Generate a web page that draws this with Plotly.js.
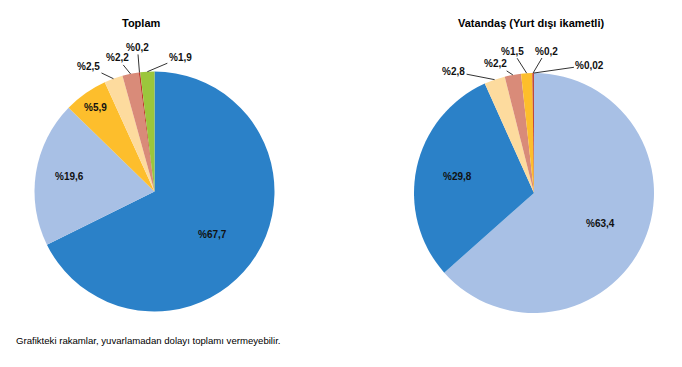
<!DOCTYPE html>
<html>
<head>
<meta charset="utf-8">
<script src="https://cdn.plot.ly/plotly-3.0.1.min.js"></script>
<style>html,body{margin:0;padding:0;background:#fff;}#chart{width:682px;height:367px;}</style>
</head>
<body>
<div id="chart"></div>
<script>
// ---- data ----
var leftTitle = "Toplam";
var rightTitle = "Vatandaş (Yurt dışı ikametli)";
var leftLabels = ["A1", "A2", "A3", "A4", "A5", "A6", "A7"];
var leftValues = [67.7, 19.6, 5.9, 2.5, 2.2, 0.2, 1.9];
var leftText = ["%67,7", "%19,6", "%5,9", "%2,5", "%2,2", "%0,2", "%1,9"];
var rightLabels = ["B1", "B2", "B3", "B4", "B5", "B6", "B7"];
var rightValues = [63.4, 29.8, 2.8, 2.2, 1.5, 0.2, 0.02];
var rightText = ["%63,4", "%29,8", "%2,8", "%2,2", "%1,5", "%0,2", "%0,02"];
var footnote = "Grafikteki rakamlar, yuvarlamadan dolayı toplamı vermeyebilir.";

// ---- styles / layout config ----
var W = 682, H = 367;
var leftColors = ["#2B81C8", "#A8C0E5", "#FDBE2C", "#FDDB9E", "#D98B79", "#C0392B", "#9BC63C"];
var rightColors = ["#A8C0E5", "#2B81C8", "#FDDB9E", "#D98B79", "#FDBE2C", "#C0392B", "#8B1A1A"];
var leftPie = {cx: 154.5, cy: 191.5, r: 120};
var rightPie = {cx: 534, cy: 193, r: 120};
// label placement: inside -> radius fraction and extra angle (deg); outside -> pixel offset of label from slice edge
var leftPlace = [{f: 0.6, da: 5}, {f: 0.72, da: 1}, {f: 0.86, da: 0}, {ax: -25, ay: -12}, {ax: -13, ay: -16}, {ax: -2, ay: -25}, {ax: 33, ay: -14}];
var rightPlace = [{f: 0.61, da: 0}, {f: 0.65, da: 0}, {ax: -41, ay: -8}, {ax: -17, ay: -11}, {ax: -14, ay: -22}, {ax: 13, ay: -22}, {ax: 56, ay: -8}];

var FONT = "Liberation Sans, Arial, sans-serif";

function domainOf(p) {
  return {
    x: [(p.cx - p.r) / W, (p.cx + p.r) / W],
    y: [(H - p.cy - p.r) / H, (H - p.cy + p.r) / H]
  };
}

function labelAnnotations(values, texts, place, p) {
  var total = values.reduce(function (a, b) { return a + b; }, 0);
  var acc = 0, out = [];
  for (var i = 0; i < values.length; i++) {
    var mid = (acc + values[i] / 2) / total * 2 * Math.PI;
    acc += values[i];
    var pl = place[i];
    var font = {family: FONT, size: 10, color: "#111"};
    if (pl.f !== undefined) {
      var a = mid + pl.da * Math.PI / 180;
      var px = p.cx + p.r * pl.f * Math.sin(a);
      var py = p.cy - p.r * pl.f * Math.cos(a);
      out.push({xref: "paper", yref: "paper", x: px / W, y: 1 - py / H,
        text: "<b>" + texts[i] + "</b>", showarrow: false, font: font,
        xanchor: "center", yanchor: "middle"});
    } else {
      var tx = p.cx + p.r * Math.sin(mid);
      var ty = p.cy - p.r * Math.cos(mid);
      out.push({xref: "paper", yref: "paper", x: tx / W, y: 1 - ty / H,
        text: "<b>" + texts[i] + "</b>", showarrow: true, arrowhead: 0,
        arrowwidth: 1, arrowcolor: "#333", ax: pl.ax, ay: pl.ay, font: font,
        standoff: 0});
    }
  }
  return out;
}

var traces = [
  {type: "pie", labels: leftLabels, values: leftValues, sort: false,
   direction: "clockwise", rotation: 0, textinfo: "none", hoverinfo: "none",
   marker: {colors: leftColors, line: {color: "#fff", width: 0}},
   domain: domainOf(leftPie), showlegend: false},
  {type: "pie", labels: rightLabels, values: rightValues, sort: false,
   direction: "clockwise", rotation: 0, textinfo: "none", hoverinfo: "none",
   marker: {colors: rightColors, line: {color: "#fff", width: 0}},
   domain: domainOf(rightPie), showlegend: false}
];

var annotations = []
  .concat(labelAnnotations(leftValues, leftText, leftPlace, leftPie))
  .concat(labelAnnotations(rightValues, rightText, rightPlace, rightPie));

annotations.push({xref: "paper", yref: "paper", x: 141 / W, y: 1 - 23 / H,
  text: "<b>" + leftTitle + "</b>", showarrow: false,
  font: {family: FONT, size: 11, color: "#000"}, xanchor: "center", yanchor: "middle"});
annotations.push({xref: "paper", yref: "paper", x: 531 / W, y: 1 - 23 / H,
  text: "<b>" + rightTitle + "</b>", showarrow: false,
  font: {family: FONT, size: 11, color: "#000"}, xanchor: "center", yanchor: "middle"});
annotations.push({xref: "paper", yref: "paper", x: 14 / W, y: 1 - 340 / H,
  text: footnote, showarrow: false,
  font: {family: FONT, size: 9.6, color: "#000"}, xanchor: "left", yanchor: "middle"});

var layout = {
  width: W, height: H,
  margin: {l: 0, r: 0, t: 0, b: 0},
  paper_bgcolor: "#fff", plot_bgcolor: "#fff",
  showlegend: false,
  annotations: annotations
};

Plotly.newPlot("chart", traces, layout, {displayModeBar: false, staticPlot: true});
</script>
</body>
</html>
